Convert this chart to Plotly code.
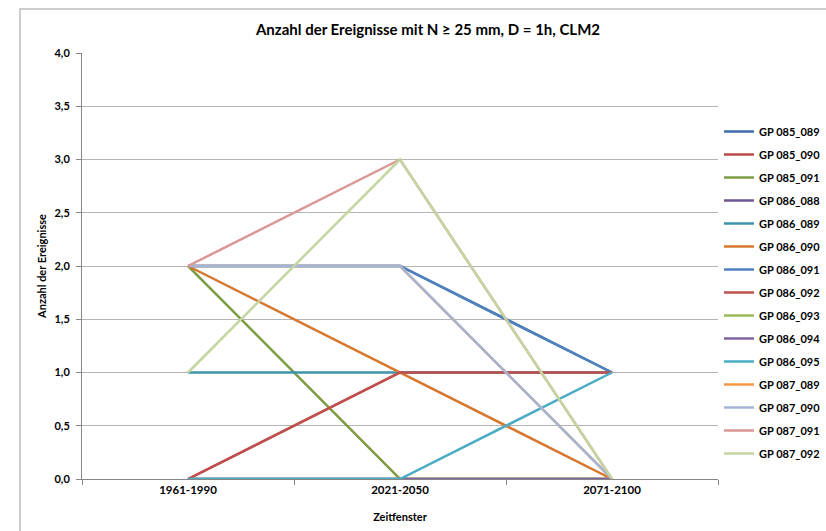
import plotly.graph_objects as go

# Zeitfenster (x categories)
periods = ["1961-1990", "2021-2050", "2071-2100"]

# Gitterpunkte and number of events per time window
gp_names = [
    "GP 085_089", "GP 085_090", "GP 085_091", "GP 086_088", "GP 086_089",
    "GP 086_090", "GP 086_091", "GP 086_092", "GP 086_093", "GP 086_094",
    "GP 086_095", "GP 087_089", "GP 087_090", "GP 087_091", "GP 087_092",
]
gp_085_089 = [2, 2, 1]
gp_085_090 = [0, 1, 1]
gp_085_091 = [2, 0, 0]
gp_086_088 = [0, 0, 0]
gp_086_089 = [1, 1, 1]
gp_086_090 = [2, 1, 0]
gp_086_091 = [2, 2, 1]
gp_086_092 = [0, 1, 1]
gp_086_093 = [0, 0, 0]
gp_086_094 = [0, 0, 0]
gp_086_095 = [0, 0, 1]
gp_087_089 = [2, 2, 0]
gp_087_090 = [2, 2, 0]
gp_087_091 = [2, 3, 0]
gp_087_092 = [1, 3, 0]

series = [
    gp_085_089, gp_085_090, gp_085_091, gp_086_088, gp_086_089,
    gp_086_090, gp_086_091, gp_086_092, gp_086_093, gp_086_094,
    gp_086_095, gp_087_089, gp_087_090, gp_087_091, gp_087_092,
]

colors = [
    "#3E6DAA", "#B94A48", "#7F9C45", "#6F5891", "#3D93AC",
    "#D6782F", "#4F81BD", "#C0504D", "#9BBB59", "#8064A2",
    "#4BACC6", "#F79646", "#A5B5D6", "#D99795", "#C3D5A0",
]

FONT = "Lato"
W, H = 826, 531
L, R, T, B = 82, 108, 53, 52   # plot area margins in px
pw, ph = W - L - R, H - T - B

fig = go.Figure()
for name, vals, col in zip(gp_names, series, colors):
    fig.add_trace(go.Scatter(
        x=periods, y=vals, name=name, mode="lines",
        line=dict(color=col, width=2.5),
        legendgroup=name,
    ))

def px_x(p):
    return (p - L) / pw

def px_y(p):
    return (H - B - p) / ph

fig.update_layout(
    width=W, height=H,
    margin=dict(l=L, r=R, t=T, b=B, autoexpand=False),
    paper_bgcolor="white", plot_bgcolor="white",
    separators=",.",
    font=dict(family=FONT, color="#000000"),
    title=dict(
        text="Anzahl der Ereignisse mit N ≥ 25 mm, D = 1h, CLM2",
        x=px_x(428), xref="paper", xanchor="center",
        y=1 - 30 / H, yref="container", yanchor="middle",
        font=dict(family=FONT, size=15, weight="bold", color="#000000"),
    ),
    xaxis=dict(
        type="category", range=[-0.5, 2.5],
        showgrid=False, showline=True, linecolor="#868686", linewidth=1,
        ticks="outside", tickson="boundaries", ticklen=5, tickcolor="#868686",
        tickfont=dict(family=FONT, size=11.5, weight="bold"),
        title=dict(text="Zeitfenster", standoff=18,
                   font=dict(family=FONT, size=11, weight="bold")),
        zeroline=False,
    ),
    yaxis=dict(
        range=[0, 4], dtick=0.5, tick0=0, tickformat=".1f",
        showgrid=True, gridcolor="#B4B4B4", gridwidth=1,
        showline=True, linecolor="#868686", linewidth=1,
        ticks="outside", ticklen=5, tickcolor="#868686",
        tickfont=dict(family=FONT, size=11, weight="bold"),
        ticklabelstandoff=4,
        title=dict(text="Anzahl der Ereignisse", standoff=5,
                   font=dict(family=FONT, size=11, weight="bold")),
        zeroline=False,
    ),
    legend=dict(
        x=px_x(719), xanchor="left",
        y=px_y(117), yanchor="top",
        font=dict(family=FONT, size=11, weight="bold"),
        itemwidth=30, tracegroupgap=4,
        bgcolor="rgba(0,0,0,0)",
    ),
    showlegend=True,
)

# chart frame (runs past the right and bottom edges)
fig.add_shape(
    type="rect", xref="paper", yref="paper",
    x0=px_x(20), x1=px_x(W + 40), y0=px_y(H + 40), y1=px_y(9),
    line=dict(color="#BDBDBD", width=1.5), fillcolor="rgba(0,0,0,0)",
    layer="below",
)

fig.write_html("out.html")
